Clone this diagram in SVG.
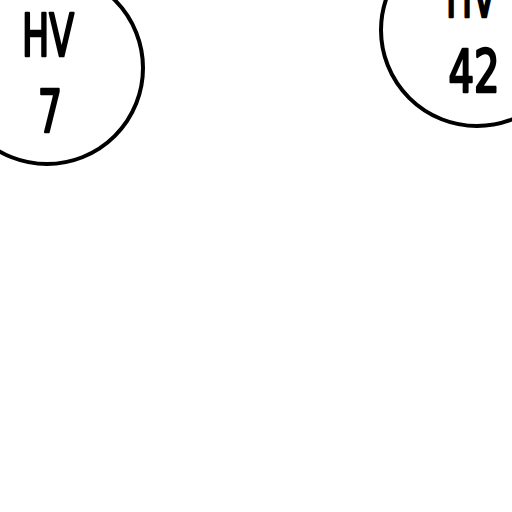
<svg xmlns="http://www.w3.org/2000/svg" width="512" height="512" viewBox="0 0 512 512">
<style>
.c{fill:none;stroke:#000;stroke-width:4}
.t{font-family:"DejaVu Sans Condensed","DejaVu Sans",sans-serif;font-weight:normal;font-size:58px;fill:#000;stroke:#000;stroke-width:2.6;stroke-linejoin:round;text-anchor:middle}
</style>
<rect width="512" height="512" fill="#fff"/>
<g id="node-hv7">
<circle class="c" cx="47" cy="68" r="96"/>
<text class="t" x="48" y="56" textLength="52" lengthAdjust="spacingAndGlyphs">HV</text>
<text class="t" x="50" y="132" textLength="24" lengthAdjust="spacingAndGlyphs">7</text>
</g>
<g id="node-hv42">
<circle class="c" cx="477" cy="30" r="96"/>
<text class="t" x="471" y="17" textLength="50" lengthAdjust="spacingAndGlyphs">HV</text>
<text class="t" x="474" y="92" textLength="51" lengthAdjust="spacingAndGlyphs">42</text>
</g>
<g id="connectors"></g>
</svg>
